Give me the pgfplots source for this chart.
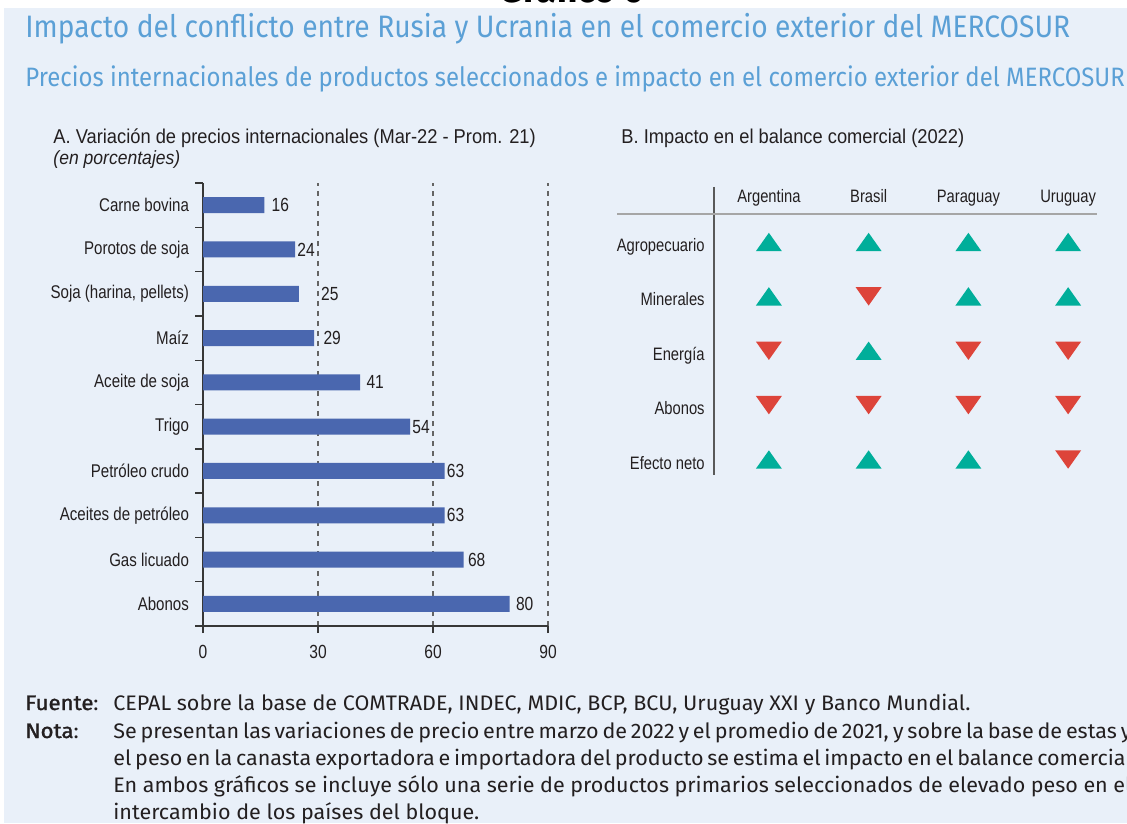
\documentclass[border=0pt]{standalone}
\usepackage{pgfplots}
\pgfplotsset{compat=1.18}
\usepackage{pgfplotstable}
\usepackage{fontspec}
\setmainfont{Liberation Sans}[FakeStretch=0.82]
\newfontfamily\ptitlefont{Liberation Sans}[FakeStretch=0.915]
\newfontfamily\headfont{Fira Sans}[FakeStretch=0.909]
\newfontfamily\subfont{Fira Sans}[FakeStretch=0.90]
\newfontfamily\topfont{Fira Sans}[FakeStretch=0.95]
\newfontfamily\footfont{Fira Sans}[FakeStretch=1.025]
\newfontfamily\footbold{Fira Sans}[FakeStretch=1.06, FakeBold=1.3]
\definecolor{bg}{RGB}{233,240,249}
\definecolor{ttl}{RGB}{91,160,214}
\definecolor{barc}{RGB}{74,103,175}
\definecolor{upc}{RGB}{0,174,154}
\definecolor{dnc}{RGB}{221,68,58}
\definecolor{txt}{RGB}{35,31,32}
\definecolor{gridc}{RGB}{100,100,100}
\definecolor{axc}{RGB}{55,55,55}

\pgfdeclareplotmark{tup}{%
  \pgfpathmoveto{\pgfqpoint{-6.5pt}{-4.6pt}}%
  \pgfpathlineto{\pgfqpoint{6.5pt}{-4.6pt}}%
  \pgfpathlineto{\pgfqpoint{0pt}{4.6pt}}%
  \pgfpathclose\pgfusepathqfill}
\pgfdeclareplotmark{tdown}{%
  \pgfpathmoveto{\pgfqpoint{-6.5pt}{4.6pt}}%
  \pgfpathlineto{\pgfqpoint{6.5pt}{4.6pt}}%
  \pgfpathlineto{\pgfqpoint{0pt}{-4.6pt}}%
  \pgfpathclose\pgfusepathqfill}

\pgfplotsset{/pgf/number format/assume math mode=true}

\pgfplotstableread{
idx val off
9 16 3.5
8 24 1
7 25 11
6 29 4.5
5 41 3
4 54 1
3 63 1
2 63 1
1 68 2
0 80 3
}\pricedata

\pgfplotstableread{
col row
0 4
1 4
2 4
3 4
0 3
2 3
3 3
1 2
0 0
1 0
2 0
}\updata

\pgfplotstableread{
col row
1 3
0 2
2 2
3 2
0 1
1 1
2 1
3 1
3 0
}\downdata

\begin{document}
\begin{tikzpicture}
\begin{scope}[x=0.5pt,y=-0.5pt]
\useasboundingbox (0,0) rectangle (1127,823);
\fill[white] (0,0) rectangle (1127,823);
\fill[bg] (4,8) rectangle (1127,823);
\node[anchor=base, inner sep=0pt, font=\topfont\bfseries\fontsize{19}{22}\selectfont, text=black] at (572,3) {Gráfico 6};
\node[anchor=base west, inner sep=0pt, font=\headfont\fontsize{15.5}{18}\selectfont, text=ttl] at (25,38) {Impacto del conflicto entre Rusia y Ucrania en el comercio exterior del MERCOSUR};
\node[anchor=base west, inner sep=0pt, font=\subfont\fontsize{13.3}{16}\selectfont, text=ttl] at (25,87) {Precios internacionales de productos seleccionados e impacto en el comercio exterior del MERCOSUR};
\node[anchor=base west, inner sep=0pt, font=\ptitlefont\fontsize{10}{12}\selectfont, text=txt] at (53,144) {A. Variación de precios internacionales (Mar-22 - Prom. 21)};
\node[anchor=base west, inner sep=0pt, font=\ptitlefont\itshape\fontsize{9.6}{12}\selectfont, text=txt] at (53,165) {(en porcentajes)};
\node[anchor=base west, inner sep=0pt, font=\ptitlefont\fontsize{10}{12}\selectfont, text=txt] at (621,144) {B. Impacto en el balance comercial (2022)};
\draw[gray!70!black, line width=0.8pt] (714,187) -- (714,475);
\draw[gray!70, line width=0.8pt] (617,214) -- (1097,214);
% footer
\begin{scope}[every node/.style={anchor=base west, inner sep=0pt, font=\footfont\fontsize{10.5}{12}\selectfont, text=txt}]
\node at (25,710) {{\footbold Fuente}:};
\node at (113,710) {CEPAL sobre la base de COMTRADE, INDEC, MDIC, BCP, BCU, Uruguay XXI y Banco Mundial.};
\node at (25,738) {{\footbold Nota}:};
\node at (113,738) {\makebox[509pt][s]{Se presentan las variaciones de precio entre marzo de 2022 y el promedio de 2021, y sobre la base de estas y}};
\node at (113,765) {\makebox[509pt][s]{el peso en la canasta exportadora e importadora del producto se estima el impacto en el balance comercial.}};
\node at (113,792) {\makebox[509pt][s]{En ambos gráficos se incluye sólo una serie de productos primarios seleccionados de elevado peso en el}};
\node at (113,819) {intercambio de los países del bloque.};
\end{scope}
\end{scope}

% Panel A
\begin{axis}[
  at={(101.5pt,-313pt)}, anchor=south west,
  width=172.5pt, height=221.5pt, scale only axis,
  xbar, bar width=8pt,
  xmin=0, xmax=90, ymin=-0.5, ymax=9.5,
  axis lines*=left,
  axis line style={axc, line width=0.7pt},
  xtick={0,30,60,90},
  ytick={0,...,9},
  yticklabels={Abonos, Gas licuado, Aceites de petróleo, Petróleo crudo, Trigo, Aceite de soja, Maíz, {Soja (harina, pellets)}, Porotos de soja, Carne bovina},
  minor ytick={-0.5,0.5,...,9.5},
  tick align=outside,
  major tick length=3.5pt, minor tick length=4pt,
  every major y tick/.append style={draw=none},
  every tick/.append style={axc, line width=0.7pt},
  every minor tick/.append style={axc, line width=0.7pt},
  xmajorgrids,
  major x grid style={gridc, line width=0.6pt, dash pattern=on 2.5pt off 2.5pt},
  yticklabel style={font=\fontsize{9.2}{10}\selectfont, text=txt},
  xticklabel style={font=\fontsize{9.5}{10}\selectfont, text=txt, yshift=-2.5pt},
  clip=false,
]
\addplot[fill=barc, draw=none,
  visualization depends on={\thisrow{off} \as \off},
  nodes near coords,
  nodes near coords style={anchor=west, inner sep=0pt, xshift=\off pt, font=\fontsize{9.5}{10}\selectfont, text=txt},
  point meta=x]
  table[x=val, y=idx] {\pricedata};
\end{axis}

% Panel B
\begin{axis}[
  at={(359.5pt,-243.35pt)}, anchor=south west,
  width=199.5pt, height=135.95pt, scale only axis,
  xmin=-0.5, xmax=3.5, ymin=-0.5, ymax=4.5,
  axis line style={draw=none},
  tick style={draw=none}, major tick length=0pt,
  xtick={0,1,2,3}, xticklabels={Argentina,Brasil,Paraguay,Uruguay},
  xticklabel pos=upper,
  ytick={0,...,4}, yticklabels={Efecto neto, Abonos, Energía, Minerales, Agropecuario},
  ticklabel style={font=\fontsize{9}{10}\selectfont, text=txt},
  xticklabel style={anchor=base, inner sep=0pt, yshift=6.4pt},
  yticklabel style={anchor=base east, inner sep=0pt, xshift=-7pt, yshift=-4.75pt},
  clip=false,
]
\addplot[only marks, mark=tup, color=upc] table[x=col, y=row] {\updata};
\addplot[only marks, mark=tdown, color=dnc] table[x=col, y=row] {\downdata};
\end{axis}
\end{tikzpicture}
\end{document}
